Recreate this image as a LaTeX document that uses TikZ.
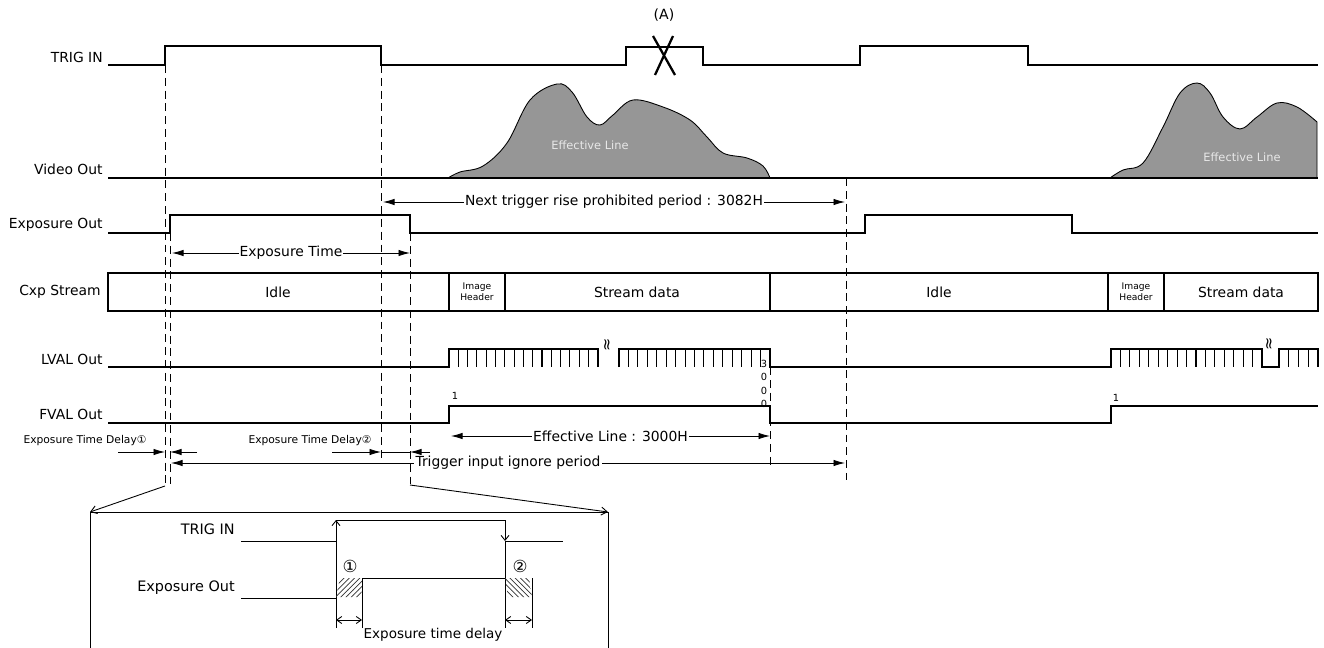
\documentclass[tikz,border=0pt]{standalone}
\usepackage{fontspec}
\setmainfont{DejaVu Sans}
\usetikzlibrary{positioning, arrows.meta, patterns}

\definecolor{humpGray}{RGB}{150,150,150}
\definecolor{humpText}{RGB}{232,232,232}

\begin{document}
\begin{tikzpicture}[
    x=0.02cm, y=-0.02cm,
    font=\fontsize{7.9}{9}\selectfont,
    sigName/.style={
        anchor=east,
        inner sep=0pt
    },
    wave/.style={
        draw,
        line width=0.6pt
    },
    guide/.style={
        draw,
        line width=0.5pt,
        dash pattern=on 4.5pt off 2.8pt
    },
    dimLine/.style={
        draw,
        line width=0.5pt,
        {Latex[length=2.3mm,width=1.3mm]}-{Latex[length=2.3mm,width=1.3mm]}
    },
    oneWay/.style={
        draw,
        line width=0.5pt,
        -{Latex[length=2.3mm,width=1.3mm]}
    },
    dimText/.style={
        fill=white,
        inner sep=0.6pt
    },
    smallText/.style={font=\fontsize{6.1}{7}\selectfont},
    tinyText/.style={font=\fontsize{5.2}{6.4}\selectfont, align=center},
    hump/.style={
        fill=humpGray,
        draw=black,
        line width=0.5pt
    },
    zoomLine/.style={
        draw,
        line width=0.5pt,
        -{Straight Barb[length=1.2mm,width=1.6mm]}
    },
    barb/.style={
        draw,
        line width=0.5pt,
        {Straight Barb[length=1mm,width=1.4mm]}-{Straight Barb[length=1mm,width=1.4mm]}
    },
    hatchA/.style={pattern=north east lines, pattern color=black!80},
    hatchB/.style={pattern=north west lines, pattern color=black!80}
]

% --- Canvas ---
\useasboundingbox (0,0) rectangle (1324,648);

% --- Signal names ---
\node[sigName] (trigName) at (103,57) {TRIG IN};
\node[sigName] (videoName) at (103,169) {Video Out};
\node[sigName] (expName) at (103,225) {Exposure Out};
\node[sigName] (cxpName) at (101,292) {Cxp Stream};
\node[sigName] (lvalName) at (103,359) {LVAL Out};
\node[sigName] (fvalName) at (103,414) {FVAL Out};

% --- Guide lines ---
\draw[guide] (165,65) -- (165,484);
\draw[guide] (170,233) -- (170,484);
\draw[guide] (381,65) -- (381,458);
\draw[guide] (410,233) -- (410,484);
\draw[guide] (770,367) -- (770,466);
\draw[guide] (846,178) -- (846,480);

% --- TRIG IN ---
\draw[wave] (108,65) -- (165,65) -- (165,46) -- (381,46) -- (381,65) -- (626,65)
    -- (626,47) -- (703,47) -- (703,65) -- (860,65) -- (860,46) -- (1028,46)
    -- (1028,65) -- (1318,65);
\node[font=\fontsize{8}{9}\selectfont] (markA) at (664,15) {(A)};
\draw[line width=1.3pt] (653,36) -- (675,75) (673,36) -- (655,75);

% --- Video Out ---
\filldraw[hump] plot[smooth, tension=0.6] coordinates {(448,178) (460,172) (483,166)
    (507,143) (530,100) (557,84) (572,92) (587,117) (600,125) (613,115) (633,100)
    (663,107) (690,120) (707,137) (723,153) (747,158) (763,166) (770,178)} -- cycle;
\filldraw[hump] plot[smooth, tension=0.6] coordinates {(1110,178) (1123,170)
    (1143,163) (1163,127) (1180,93) (1197,83) (1210,93) (1223,117) (1240,129)
    (1257,117) (1277,103) (1297,107) (1317,122)} -- (1317,178) -- cycle;
\draw[wave] (108,178) -- (1318,178);
\node[text=humpText, font=\fontsize{6.5}{7}\selectfont] (line1) at (590,145) {Effective Line};
\node[text=humpText, font=\fontsize{6.5}{7}\selectfont] (line2) at (1242,157) {Effective Line};

% --- Exposure Out ---
\draw[wave] (108,233) -- (170,233) -- (170,215) -- (410,215) -- (410,233) -- (865,233)
    -- (865,215) -- (1072,215) -- (1072,233) -- (1318,233);

\coordinate (nextL) at (383,202);
\coordinate (nextR) at (845,202);
\draw[dimLine] (nextL) -- node[dimText] {Next trigger rise prohibited period : 3082H} (nextR);

\coordinate (expL) at (172,253);
\coordinate (expR) at (410,253);
\draw[dimLine] (expL) -- node[dimText] {Exposure Time} (expR);

% --- Cxp Stream ---
\draw[wave] (108,273) rectangle (1318,311);
\foreach \xd in {449,505,770,1108,1164}
    \draw[wave] (\xd,273) -- (\xd,311);
\node (idle1) at (278,292) {Idle};
\node[tinyText] (head1) at (477,292) {Image\\Header};
\node (data1) at (637,292) {Stream data};
\node (idle2) at (939,292) {Idle};
\node[tinyText] (head2) at (1136,292) {Image\\Header};
\node (data2) at (1241,292) {Stream data};

% --- LVAL Out ---
\draw[wave] (108,367) -- (449,367) -- (449,349) -- (598,349) -- (598,367);
\foreach \k in {1,...,15}
    \draw[wave] ({449+\k*9.3},349) -- ({449+\k*9.3},367);
\draw[wave] (619,367) -- (619,349) -- (770,349) -- (770,367) -- (1111,367) -- (1111,349)
    -- (1262,349) -- (1262,367) -- (1279,367) -- (1279,349) -- (1318,349) -- (1318,367);
\foreach \k in {1,...,15}
    \draw[wave] ({619+\k*9.44},349) -- ({619+\k*9.44},367);
\foreach \k in {1,...,15}
    \draw[wave] ({1111+\k*9.44},349) -- ({1111+\k*9.44},367);
\foreach \k in {1,...,3}
    \draw[wave] ({1279+\k*9.75},349) -- ({1279+\k*9.75},367);
\node[rotate=90, font=\fontsize{9}{9}\selectfont, inner sep=0pt] (gap1) at (608,345) {≈};
\node[rotate=90, font=\fontsize{9}{9}\selectfont, inner sep=0pt] (gap2) at (1270,344) {≈};
\node[smallText, align=center, inner sep=0pt, font=\fontsize{5.6}{7.6}\selectfont] (cnt3000) at (764,384) {3\\0\\0\\0};

% --- FVAL Out ---
\draw[wave] (108,423) -- (449,423) -- (449,406) -- (770,406) -- (770,423) -- (1111,423)
    -- (1111,406) -- (1318,406);
\node[smallText, font=\fontsize{5.6}{6}\selectfont] (first1) at (455,396) {1};
\node[smallText, font=\fontsize{5.6}{6}\selectfont] (first2) at (1116,398) {1};

\coordinate (effL) at (451,436);
\coordinate (effR) at (770,436);
\draw[dimLine] (effL) -- node[dimText] {Effective Line : 3000H} (effR);

% --- Delay and ignore period ---
\node[smallText] (delay1) at (85,441) {Exposure Time Delay①};
\node[smallText] (delay2) at (310,441) {Exposure Time Delay②};
\coordinate (d1a) at (118,452);
\coordinate (d1b) at (165,452);
\coordinate (d1c) at (197,452);
\coordinate (d1d) at (170,452);
\draw[oneWay] (d1a) -- (d1b);
\draw[oneWay] (d1c) -- (d1d);
\coordinate (d2a) at (332,452);
\coordinate (d2b) at (381,452);
\coordinate (d2c) at (430,452);
\coordinate (d2d) at (410,452);
\draw[oneWay] (d2a) -- (d2b);
\draw[line width=0.5pt] (d2b) -- (d2d);
\draw[oneWay] (d2c) -- (d2d);

\coordinate (ignL) at (171,463);
\coordinate (ignR) at (845,463);
\draw[dimLine] (ignL) -- node[dimText, pos=0.5] {Trigger input ignore period} (ignR);

% --- Detail view ---
\coordinate (zoomL) at (165,486);
\coordinate (zoomR) at (410,485);
\coordinate (boxTL) at (90,512);
\coordinate (boxTR) at (608,512);
\draw[zoomLine] (zoomL) -- (boxTL);
\draw[zoomLine] (zoomR) -- (boxTR);
\draw[line width=0.5pt] (90,648) -- (boxTL) -- (boxTR) -- (608,648);

\node[sigName, font=\fontsize{8.2}{9}\selectfont] (trigName2) at (235,529) {TRIG IN};
\node[sigName, font=\fontsize{8.2}{9}\selectfont] (expName2) at (235,588) {Exposure Out};

\draw[line width=0.5pt] (241,541) -- (336,541);
\draw[line width=0.5pt, -{Straight Barb[length=1mm,width=1.6mm]}] (336,628) -- (336,520);
\draw[line width=0.5pt] (336,520) -- (505,520);
\draw[line width=0.5pt, -{Straight Barb[length=1mm,width=1.6mm]}] (505,520) -- (505,541);
\draw[line width=0.5pt] (505,541) -- (505,628);
\draw[line width=0.5pt] (505,541) -- (563,541);

\draw[line width=0.5pt] (241,598) -- (336,598);
\filldraw[hatchA, draw=none] (336,597) -- (340,578) -- (363,578) -- (361,597) -- cycle;
\draw[line width=0.5pt] (362,578) -- (362,628);
\draw[line width=0.5pt] (362,578) -- (505,578);
\filldraw[hatchB, draw=none] (505,578) -- (529,578) -- (532,597) -- (508,597) -- cycle;
\draw[line width=0.5pt] (532,578) -- (532,628);
\node[font=\fontsize{9.5}{10}\selectfont, inner sep=0pt] (num1) at (350,566) {①};
\node[font=\fontsize{9.5}{10}\selectfont, inner sep=0pt] (num2) at (520,566) {②};

\coordinate (edA) at (336,620);
\coordinate (edB) at (362,620);
\coordinate (edC) at (505,620);
\coordinate (edD) at (532,620);
\draw[barb] (edA) -- (edB);
\draw[barb] (edC) -- (edD);
\node[font=\fontsize{7.7}{9}\selectfont] (delayText) at (433,635) {Exposure time delay};

\end{tikzpicture}
\end{document}
